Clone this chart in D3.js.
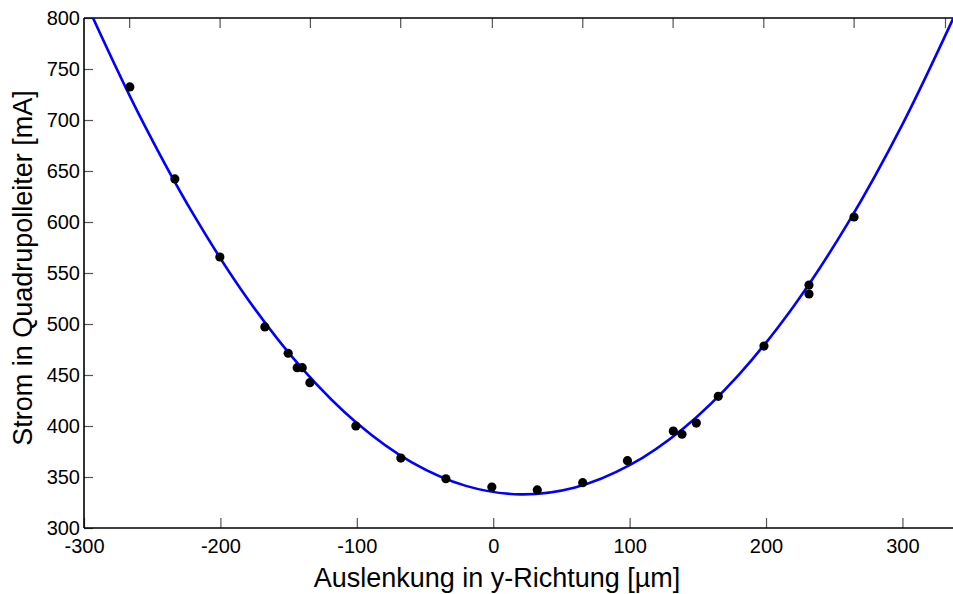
<!DOCTYPE html>
<html><head><meta charset="utf-8">
<script src="https://cdn.jsdelivr.net/npm/d3@7"></script>
<style>
html,body{margin:0;padding:0;background:#fff;}
svg{display:block;font-family:"Liberation Sans",Arial,Helvetica,sans-serif;}
</style></head>
<body>
<svg id="chart" width="953" height="594"></svg>
<script>
// Measured points
const dataX = [-266.4,-233.4,-200.4,-167.4,-150.3,-143.7,-140.0,-134.4,-100.7,-67.7,-34.7,-1.0,32.3,65.6,98.4,132.0,138.4,148.9,165.0,198.5,231.5,231.5,264.5];
const dataY = [732.4,642.2,565.7,497.1,471.3,457.2,457.2,442.5,400.0,368.6,348.3,340.2,337.3,344.4,366.0,395.1,391.9,402.9,429.1,478.4,538.2,529.4,604.9];
// Fit curve
const fitX = [-295,-260,-220,-180,-140,-100,-60,-20,20,60,100,140,180,220,260,300,340];
const fitY = [804.7,706.3,607.9,524.5,456.2,402.9,364.6,341.3,333.0,339.8,361.6,398.4,450.2,517.0,598.9,695.8,807.7];
// Ticks
const xTicks = [-300,-200,-100,0,100,200,300];
const yTicks = [300,350,400,450,500,550,600,650,700,750,800];
const topTicks = [-266.9,-200.6,-134.4,-68.2,-1.0,65.3,131.5,198.0,264.2,331.2];
const xLabel = "Auslenkung in y-Richtung [µm]";
const yLabel = "Strom in Quadrupolleiter [mA]";

const L = 84, R = 957, T = 18, B = 528;
const svg = d3.select("#chart");
const x = d3.scaleLinear().domain([-300,340]).range([L,R]);
const y = d3.scaleLinear().domain([300,800]).range([B,T]);

svg.append("defs").append("clipPath").attr("id","clip")
  .append("rect").attr("x",L).attr("y",T).attr("width",R-L).attr("height",B-T);

const tickColor = "#555";
const fmt = d => String(d);
// bottom axis
const gx = svg.append("g").attr("transform",`translate(0,${B})`)
  .call(d3.axisBottom(x).tickValues(xTicks).tickSize(-10).tickPadding(11).tickFormat(fmt));
// left axis
const gy = svg.append("g").attr("transform",`translate(${L},0)`)
  .call(d3.axisLeft(y).tickValues(yTicks).tickSize(-9).tickPadding(4).tickFormat(fmt));
// top axis
const gt = svg.append("g").attr("transform",`translate(0,${T})`)
  .call(d3.axisTop(x).tickValues(topTicks).tickSize(-10).tickFormat(""));
[gx,gy,gt].forEach(g=>{
  g.select(".domain").remove();
  g.selectAll(".tick line").attr("stroke",tickColor).attr("stroke-width",1.2);
  g.selectAll(".tick text").attr("fill","#000").style("font-size","20px")
   .style("font-family",'"Liberation Sans",Arial,sans-serif');
});
gy.selectAll(".tick text").attr("dy","0.34em");
gx.selectAll(".tick text").attr("dy","0.72em");

// spines
svg.append("line").attr("x1",L).attr("x2",L).attr("y1",T).attr("y2",B).attr("stroke","#000").attr("stroke-width",1.6);
svg.append("line").attr("x1",L).attr("x2",R).attr("y1",B).attr("y2",B).attr("stroke","#000").attr("stroke-width",1.6);
svg.append("line").attr("x1",L).attr("x2",R).attr("y1",T).attr("y2",T).attr("stroke","#000").attr("stroke-width",1.6);

// fit curve
const line = d3.line().x((d,i)=>x(fitX[i])).y((d,i)=>y(fitY[i])).curve(d3.curveCatmullRom);
svg.append("path").datum(fitX).attr("d",line).attr("fill","none")
  .attr("stroke","#0000ff").attr("stroke-width",2.6).attr("clip-path","url(#clip)");

// points
svg.append("g").selectAll("circle").data(dataX).join("circle")
  .attr("cx",(d,i)=>x(dataX[i])).attr("cy",(d,i)=>y(dataY[i])).attr("r",4.6).attr("fill","#000");

// labels
svg.append("text").attr("x",497).attr("y",587).attr("text-anchor","middle")
  .style("font-size","27px").attr("fill","#000").text(xLabel);
svg.append("text").attr("transform",`translate(32,268) rotate(-90)`).attr("text-anchor","middle")
  .style("font-size","27px").attr("fill","#000").text(yLabel);
</script>
</body></html>
